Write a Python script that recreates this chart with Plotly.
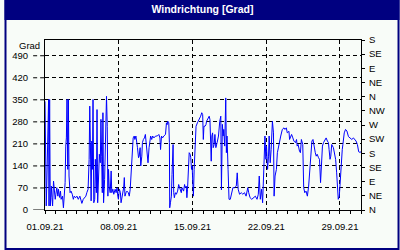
import pandas as pd
import plotly.graph_objects as go

# ---------------- data ----------------
START = "2021-09-01"
END = "2021-10-01"

DAYS = [
    0.00, 0.03, 0.06, 0.09, 0.12, 0.20, 0.34, 0.38, 0.44, 0.50, 0.60, 0.66, 0.72, 0.81, 0.91, 0.97,
    1.03, 1.12, 1.22, 1.28, 1.38, 1.47, 1.53, 1.66, 1.75, 1.81, 1.91, 1.97,
    2.03, 2.09, 2.16, 2.22, 2.28, 2.38, 2.47, 2.59, 2.69, 2.78, 2.91,
    3.03, 3.16, 3.31, 3.41, 3.50, 3.63, 3.78, 3.88, 3.97,
    4.09, 4.19, 4.25, 4.31, 4.38, 4.44, 4.50, 4.56, 4.63, 4.72, 4.78, 4.88, 4.94,
    5.00, 5.09, 5.16, 5.25, 5.31, 5.38, 5.44, 5.50, 5.56, 5.66, 5.72, 5.78, 5.84, 5.91, 5.97,
    6.03, 6.09, 6.19, 6.28, 6.34, 6.44, 6.53, 6.66, 6.75, 6.84, 6.91, 6.97,
    7.06, 7.16, 7.22, 7.28, 7.38, 7.47, 7.53, 7.59, 7.69, 7.78, 7.91,
    8.00, 8.09, 8.16, 8.25, 8.31, 8.37, 8.47, 8.53, 8.63, 8.72, 8.78, 8.88, 8.94,
    9.03, 9.09, 9.19, 9.25, 9.34, 9.44, 9.53, 9.63, 9.72, 9.78, 9.88, 9.97,
    10.03, 10.13, 10.22, 10.34, 10.50, 10.66, 10.81, 10.91, 10.97,
    11.06, 11.16, 11.28, 11.44, 11.53, 11.59, 11.66, 11.75, 11.81, 11.84, 11.91,
    12.00, 12.06, 12.16, 12.22, 12.28, 12.38, 12.47, 12.59, 12.69, 12.78, 12.84, 12.94,
    13.00, 13.16, 13.25, 13.31, 13.41, 13.47, 13.53, 13.63, 13.69, 13.78, 13.84, 13.91, 13.97,
    14.03, 14.09, 14.16, 14.22, 14.28, 14.34, 14.47, 14.56, 14.66, 14.78, 14.88, 14.97,
    15.03, 15.09, 15.19, 15.28, 15.34, 15.44, 15.53, 15.59, 15.66, 15.72, 15.78, 15.84, 15.91, 15.97,
    16.06, 16.13, 16.22, 16.34, 16.47, 16.59, 16.69, 16.75, 16.84, 16.91, 16.97,
    17.06, 17.16, 17.22, 17.28, 17.38, 17.47, 17.59, 17.72, 17.84,
    18.00, 18.16, 18.25, 18.34, 18.47, 18.63, 18.78, 18.94,
    19.09, 19.25, 19.34, 19.47, 19.63, 19.78, 19.97,
    20.13, 20.25, 20.34, 20.44, 20.56, 20.66, 20.75, 20.81, 20.88, 20.97,
    21.03, 21.13, 21.22, 21.28, 21.38, 21.47, 21.53, 21.59, 21.69, 21.75, 21.84, 21.97,
    22.06, 22.16, 22.28, 22.38, 22.53, 22.69, 22.78, 22.91,
    23.00, 23.16, 23.22, 23.41, 23.53, 23.63, 23.78, 23.88, 23.94,
    24.03, 24.16, 24.25, 24.34, 24.47, 24.56, 24.66, 24.78, 24.91,
    25.03, 25.09, 25.19, 25.28, 25.34, 25.44, 25.53, 25.66, 25.75, 25.84, 25.97,
    26.06, 26.16, 26.25, 26.34, 26.44, 26.59, 26.69, 26.81, 26.91, 26.97,
    27.06, 27.13, 27.22, 27.38, 27.47, 27.59, 27.69, 27.78, 27.84, 27.94,
    28.03, 28.13, 28.22, 28.28, 28.41, 28.53, 28.66, 28.81, 28.97,
    29.13, 29.28, 29.44, 29.53, 29.66, 29.78, 29.90, 30.00,
]

VALUES = [
    345, 175, 13, 182, 13, 130, 351, 13, 351, 13, 76, 40, 13, 92, 50, 34,
    50, 71, 44, 66, 40, 60, 34, 44, 7, 39, 87, 203,
    229, 351, 129, 351, 108, 55, 60, 50, 34, 44, 39,
    44, 34, 44, 29, 21, 34, 39, 44, 55,
    66, 161, 330, 214, 29, 219, 129, 351, 23, 34, 161, 55, 319,
    23, 161, 177, 150, 288, 171, 55, 309, 23, 97, 214, 309, 361, 266, 44,
    129, 76, 55, 124, 55, 66, 50, 66, 55, 71, 44, 34,
    66, 55, 23, 34, 60, 71, 103, 44, 55, 60, 55,
    44, 66, 103, 140, 203, 229, 235, 224, 235, 219, 198, 166, 171,
    198, 140, 171, 214, 224, 229, 240, 203, 171, 150, 198, 229,
    235, 224, 235, 229, 235, 235, 240, 229, 192,
    235, 229, 235, 240, 277, 271, 282, 277, 214, 7, 23,
    44, 113, 208, 55, 39, 55, 50, 60, 81, 71, 60, 55,
    71, 60, 81, 71, 76, 39, 66, 118, 182, 177, 166, 129, 140,
    87, 44, 129, 192, 235, 266, 277, 282, 287, 298, 309, 303,
    224, 266, 266, 271, 282, 287, 292, 298, 287, 214, 155, 235, 245, 198,
    208, 240, 198, 214, 235, 282, 298, 64, 272, 235, 256,
    203, 356, 182, 235, 129, 34, 34, 55, 71,
    71, 76, 118, 66, 50, 55, 50, 55,
    44, 71, 55, 39, 34, 39, 44,
    34, 50, 108, 34, 66, 23, 108, 203, 235, 161,
    203, 129, 171, 235, 150, 192, 251, 282, 245, 44, 108, 129,
    182, 203, 224, 235, 256, 261, 256, 261,
    245, 250, 224, 240, 229, 219, 214, 224, 203,
    208, 187, 182, 224, 208, 71, 55, 60, 44,
    76, 108, 140, 177, 219, 224, 203, 182, 171, 177, 166,
    161, 87, 161, 203, 214, 224, 229, 219, 214, 192,
    161, 171, 208, 198, 182, 161, 118, 55, 34, 44,
    100, 150, 192, 208, 245, 256, 251, 233, 227,
    224, 229, 224, 219, 208, 185, 183, 185,
]

LEFT_TICKS = [0, 70, 140, 210, 280, 350, 420, 490]
RIGHT_TICKS = [0, 45, 90, 135, 180, 225, 270, 315, 360, 405, 450, 495, 540]
RIGHT_LABELS = ["N", "NE", "E", "SE", "S", "SW", "W", "NW", "N", "NE", "E", "SE", "S"]
Y_MAX = 540
TITLE = "Windrichtung [Grad]"
UNIT = "Grad"

# ---------------- figure ----------------
W, H = 400, 250
ML, MR, MT, MB = 41, 39, 40, 40
PW, PH = W - ML - MR, H - MT - MB
BG = "#F8FCF8"
NAVY = "#000080"
FONT = "Liberation Sans, Arial, sans-serif"

x = pd.Timestamp(START) + pd.to_timedelta(DAYS, unit="D")


def px_x(p):
    return (p - ML) / PW


def px_y(p):
    return (H - MB - p) / PH


fig = go.Figure()
fig.add_trace(go.Scatter(x=x, y=VALUES, mode="lines",
                         line=dict(color="#0000FF", width=1),
                         hoverinfo="skip", showlegend=False))
fig.add_trace(go.Scatter(x=x, y=VALUES, mode="lines", yaxis="y2",
                         line=dict(color="rgba(0,0,0,0)", width=0),
                         hoverinfo="skip", showlegend=False))

shapes = []
# title bar
shapes.append(dict(type="rect", xref="paper", yref="paper",
                   x0=px_x(0), x1=px_x(W), y0=px_y(20), y1=px_y(0),
                   fillcolor=NAVY, line=dict(width=0), layer="below"))
# outer border
shapes.append(dict(type="rect", xref="paper", yref="paper",
                   x0=px_x(1), x1=px_x(W - 1), y0=px_y(H - 1), y1=px_y(1),
                   fillcolor="rgba(0,0,0,0)", line=dict(color=NAVY, width=2), layer="below"))
# dashed extensions of gridlines left of the axis
for v in LEFT_TICKS:
    shapes.append(dict(type="line", xref="paper", yref="y",
                       x0=px_x(ML - 12), x1=0, y0=v, y1=v,
                       line=dict(color="black", width=1,
                                 dash="solid" if v == 0 else "4px,3px")))

fig.update_layout(
    width=W, height=H,
    margin=dict(l=ML, r=MR, t=MT, b=MB, pad=0),
    paper_bgcolor=BG, plot_bgcolor=BG,
    font=dict(family=FONT, size=9.5, color="black"),
    title=dict(text="<b>" + TITLE + "</b>", x=0.506, xref="container", xanchor="center",
               y=1 - 9.5 / H, yref="container", yanchor="middle",
               font=dict(family=FONT, size=10.5, color="white")),
    shapes=shapes,
    xaxis=dict(type="date", range=[START, END],
               tick0=START, dtick=7 * 86400000, tickformat="%d.%m.%y",
               ticks="outside", ticklen=3, tickcolor="black",
               showline=True, linecolor="black", linewidth=1, mirror=True,
               showgrid=True, gridcolor="black", gridwidth=1, griddash="4px,3px",
               zeroline=False, ticklabelstandoff=5,
               minor=dict(dtick=86400000, tick0=START, ticks="outside", ticklen=3,
                          tickcolor="black", showgrid=False)),
    yaxis=dict(range=[0, Y_MAX], tickvals=LEFT_TICKS,
               ticks="outside", ticklen=12, tickcolor="rgba(0,0,0,0)",
               showline=True, linecolor="black", linewidth=1, mirror=True,
               showgrid=True, gridcolor="black", gridwidth=1, griddash="4px,3px",
               zeroline=False, ticklabelstandoff=2),
    yaxis2=dict(range=[0, Y_MAX], tickvals=RIGHT_TICKS, ticktext=RIGHT_LABELS,
                overlaying="y", side="right",
                ticks="outside", ticklen=3, tickcolor="black",
                showline=False, showgrid=False, zeroline=False, ticklabelstandoff=2),
    annotations=[dict(text=UNIT, xref="paper", yref="paper",
                      x=px_x(37.5), y=px_y(45), xanchor="right", yanchor="middle",
                      showarrow=False, font=dict(family=FONT, size=9.5, color="black"))],
)

fig.write_html("out.html", config={"displayModeBar": False})
